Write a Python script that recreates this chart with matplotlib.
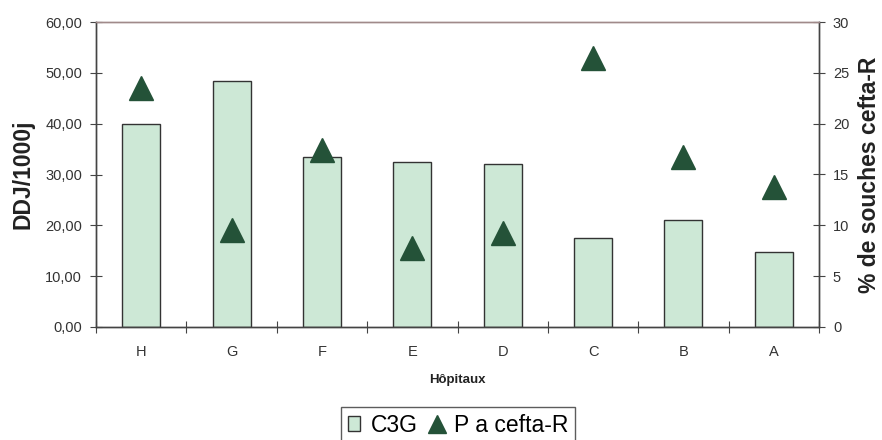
import matplotlib.pyplot as plt
import numpy as np

plt.rcParams["font.family"] = ["Liberation Sans", "DejaVu Sans"]

# Data
hopitaux = ["H", "G", "F", "E", "D", "C", "B", "A"]
c3g = [40.0, 48.4, 33.5, 32.5, 32.1, 17.5, 21.0, 14.8]
cefta_r = [23.5, 9.5, 17.4, 7.8, 9.2, 26.5, 16.7, 13.8]

fig = plt.figure(figsize=(8.82, 4.40), dpi=100)
ax = fig.add_axes([96 / 882, 1 - 327 / 440, (819 - 96) / 882, (327 - 22) / 440])
ax2 = ax.twinx()

x = np.arange(len(hopitaux))
bars = ax.bar(x, c3g, width=0.42, color="#cde8d6", edgecolor="#333333",
              linewidth=1.0, label="C3G", zorder=2)
tri, = ax2.plot(x, cefta_r, "^", color="#245238", markersize=17,
                linestyle="none", label="P a cefta-R", zorder=3)

ax.set_xlim(-0.5, len(hopitaux) - 0.5)
ax.set_ylim(0, 60)
ax2.set_ylim(0, 30)

ax.set_yticks(np.arange(0, 61, 10))
ax.set_yticklabels([f"{v:.2f}".replace(".", ",") for v in np.arange(0, 61, 10)])
ax2.set_yticks(np.arange(0, 31, 5))

# category labels between boundary ticks
ax.set_xticks(np.arange(-0.5, len(hopitaux), 1.0))
ax.set_xticklabels([])
ax.set_xticks(x, minor=True)
ax.set_xticklabels(hopitaux, minor=True)
ax.tick_params(axis="x", which="minor", length=0, pad=13, labelsize=10.5,
               colors="#333333")
ax.tick_params(axis="x", which="major", direction="inout", length=8,
               color="#444444")
ax.tick_params(axis="y", direction="inout", length=8, color="#444444",
               labelsize=10.5, labelcolor="#333333", pad=6)
ax2.tick_params(axis="y", direction="inout", length=8, color="#444444",
                labelsize=10.5, labelcolor="#333333", pad=6)

for a in (ax, ax2):
    for s in ("left", "right", "bottom"):
        a.spines[s].set_color("#444444")
        a.spines[s].set_linewidth(1.0)
    a.spines["top"].set_color("#a08a8a")
    a.spines["top"].set_linewidth(1.0)

ax.set_ylabel("DDJ/1000j", fontsize=16.5, fontweight="bold", color="#222222",
              va="center")
ax.yaxis.set_label_coords((23 - 96) / 723, 0.5)
ax2.set_ylabel("% de souches cefta-R", fontsize=16.5, fontweight="bold",
               color="#222222", va="center")
ax2.yaxis.set_label_coords((869 - 96) / 723, 0.5)
ax.set_xlabel("Hôpitaux", fontsize=9.5, fontweight="bold", color="#222222",
              labelpad=11)

leg = fig.legend(handles=[bars, tri], loc="center",
                 bbox_to_anchor=(458 / 882, 1 - 425 / 440),
                 ncol=2, frameon=True, fancybox=False, fontsize=16.5,
                 handlelength=0.55, handleheight=0.65, handletextpad=0.45,
                 columnspacing=0.6, borderpad=0.3, borderaxespad=0,
                 markerscale=0.75)
leg.get_frame().set_edgecolor("#333333")
leg.get_frame().set_linewidth(1.0)

fig.savefig("out.png", dpi=100)
